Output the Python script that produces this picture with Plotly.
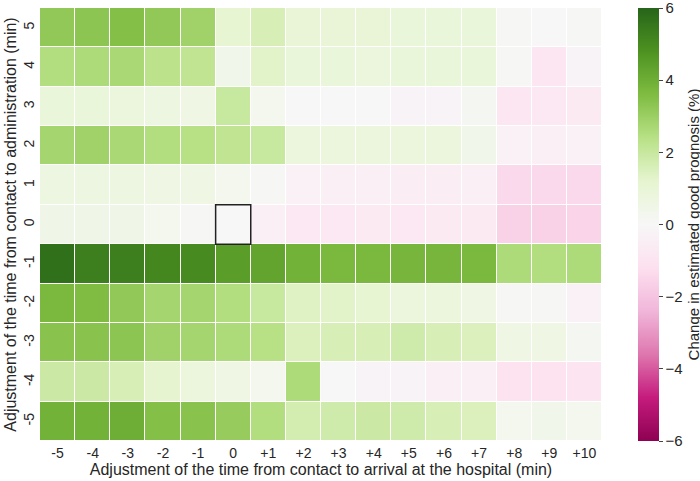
import plotly.graph_objects as go

# x: adjustment of time from contact to hospital arrival (min)
arrival_adj = list(range(-5, 11))
arrival_labels = ["-5", "-4", "-3", "-2", "-1", "0", "+1", "+2", "+3", "+4",
                  "+5", "+6", "+7", "+8", "+9", "+10"]
# y: adjustment of time from contact to administration (min)
admin_adj = [5, 4, 3, 2, 1, 0, -1, -2, -3, -4, -5]

# change in estimated good prognosis (%), one row per admin_adj value
change = [
    [3.2, 3.3, 3.5, 3.2, 2.9, 1.1, 1.6, 1.0, 1.0, 1.0, 0.9, 0.9, 0.9, 0.1, 0.0, 0.1],
    [2.5, 2.6, 2.7, 2.3, 2.2, 0.4, 1.3, 0.9, 0.9, 0.8, 0.9, 0.9, 0.9, 0.1, -0.9, -0.2],
    [0.9, 0.9, 0.8, 0.7, 0.6, 2.0, 0.3, 0.0, 0.0, 0.0, -0.2, -0.2, 0.2, -0.9, -0.8, -0.7],
    [2.8, 2.9, 2.7, 2.5, 2.4, 2.2, 2.0, 0.8, 0.8, 0.8, 0.8, 0.8, 0.4, -0.3, -0.4, -0.3],
    [0.7, 0.7, 0.7, 0.6, 0.6, 0.3, 0.1, -0.3, -0.4, -0.4, -0.5, -0.5, -0.4, -1.4, -1.4, -1.4],
    [0.5, 0.5, 0.5, 0.3, 0.1, 0.0, -0.4, -0.8, -0.8, -0.7, -0.8, -0.7, -0.7, -1.6, -1.6, -1.5],
    [5.7, 5.3, 5.3, 5.1, 5.0, 4.5, 4.3, 3.9, 3.7, 3.7, 3.8, 3.8, 3.7, 2.6, 2.5, 2.6],
    [3.7, 3.6, 3.2, 2.8, 2.8, 2.5, 2.0, 1.4, 1.3, 1.1, 0.8, 0.8, 0.6, 0.1, 0.1, -0.3],
    [3.4, 3.4, 3.3, 2.9, 2.8, 2.6, 2.4, 1.5, 1.6, 1.6, 1.8, 1.6, 1.5, 0.6, 0.6, 0.2],
    [1.9, 1.9, 1.6, 1.2, 0.8, 0.6, 0.3, 2.6, 0.0, -0.2, -0.2, -0.4, -0.4, -1.1, -1.1, -1.0],
    [3.9, 3.9, 4.0, 3.5, 3.4, 3.1, 2.5, 1.7, 1.8, 1.9, 1.8, 1.6, 1.5, 0.3, 0.4, 0.3],
]

cbar_ticks = [-6, -4, -2, 0, 2, 4, 6]
cbar_labels = ["\u22126", "\u22124", "\u22122", "0", "2", "4", "6"]

# reference (unchanged) cell highlighted with a box
ref_x, ref_y = 0, 0

font = "Liberation Sans, Arial, sans-serif"
ink = "#262626"

fig = go.Figure(go.Heatmap(
    x=arrival_adj,
    y=admin_adj,
    z=change,
    colorscale="PiYG",
    zmin=-6,
    zmax=6,
    xgap=1,
    ygap=1,
    colorbar=dict(
        title=dict(text="Change in estimated good prognosis (%)", side="right",
                   font=dict(size=15, color=ink)),
        tickvals=cbar_ticks,
        ticktext=cbar_labels,
        ticks="outside",
        ticklen=4,
        tickcolor="#444",
        tickfont=dict(size=15, color=ink),
        # the top "6" label sits right at the page edge; don't let it be hidden
        ticklabeloverflow="allow",
        thickness=21,
        # bar = len - 2*ypad, so the bar matches the 433px plot height
        lenmode="pixels",
        len=453,
        ypad=10,
        x=1.064,
        xanchor="left",
        xpad=0,
        y=0.5,
        yanchor="middle",
        outlinewidth=0,
    ),
))

fig.add_shape(
    type="rect",
    x0=ref_x - 0.5, x1=ref_x + 0.5,
    y0=ref_y - 0.5, y1=ref_y + 0.5,
    xref="x", yref="y",
    line=dict(color="#222", width=1.5),
)

fig.update_xaxes(
    title=dict(text="Adjustment of the time from contact to arrival at the hospital (min)",
               font=dict(size=16, color=ink), standoff=0),
    tickvals=arrival_adj,
    ticktext=arrival_labels,
    tickfont=dict(size=14, color=ink),
    ticks="",
    ticklabelstandoff=2,
    showgrid=False,
    zeroline=False,
)
fig.update_yaxes(
    title=dict(text="Adjustment of the time from contact to administration (min)",
               font=dict(size=16, color=ink), standoff=0),
    tickvals=admin_adj,
    ticktext=[str(v) for v in admin_adj],
    tickangle=-90,
    tickfont=dict(size=14, color=ink),
    ticks="",
    ticklabelstandoff=2,
    showgrid=False,
    zeroline=False,
)

fig.update_layout(
    width=700,
    height=481,
    margin=dict(l=40, r=98, t=8, b=40, autoexpand=False),
    paper_bgcolor="white",
    plot_bgcolor="white",
    font=dict(family=font),
)

# drop the browser's default 8px body margin so the figure fills the window
fig.write_html("out.html", config={"displayModeBar": False},
               post_script="document.body.style.margin = '0';")
